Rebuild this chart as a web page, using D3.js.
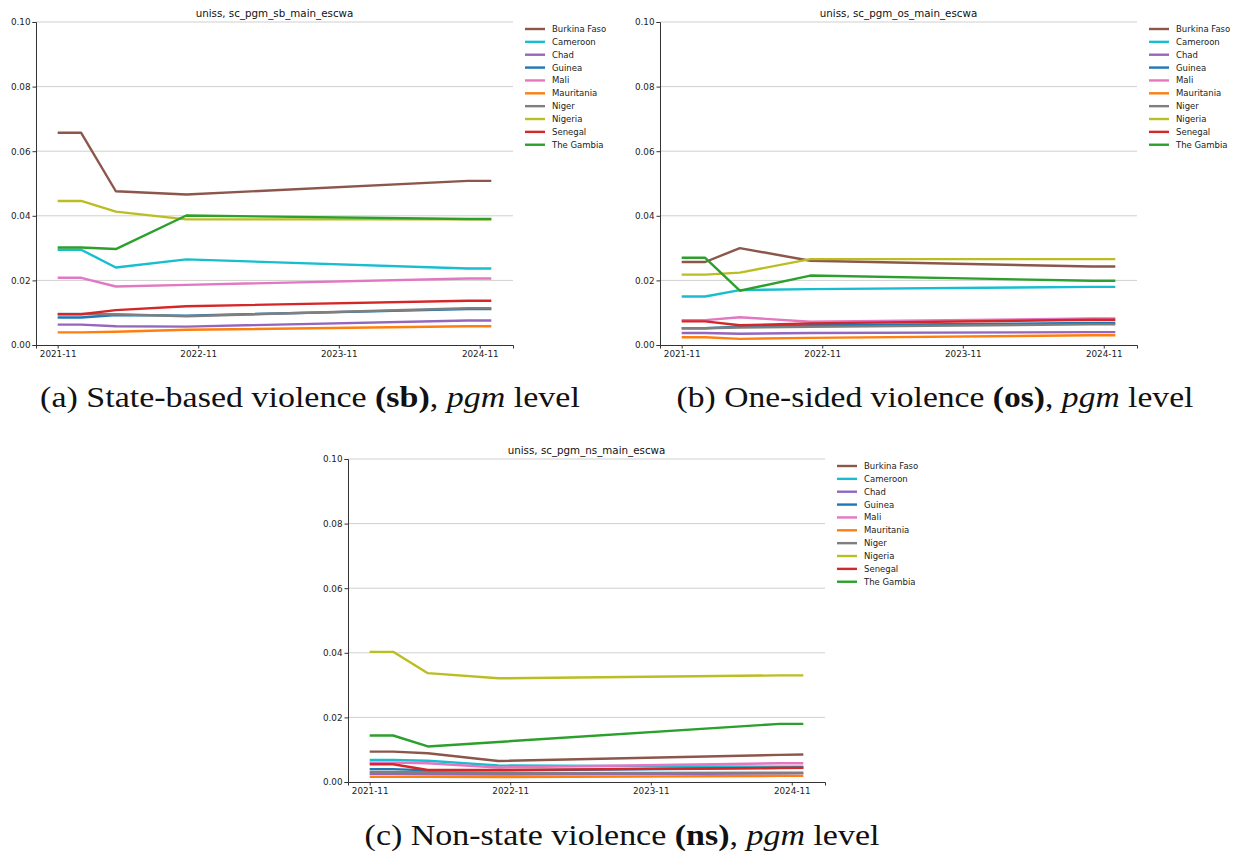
<!DOCTYPE html>
<html>
<head>
<meta charset="utf-8">
<script src="https://cdn.jsdelivr.net/npm/d3@7/dist/d3.min.js"></script>
<style>
  html, body { margin: 0; padding: 0; background: #fff; }
  svg { display: block; }
  .tick text { font-family: "DejaVu Sans", sans-serif; font-size: 8.8px; fill: #222; }
  .ptitle { font-family: "DejaVu Sans", sans-serif; font-size: 10.3px; fill: #111; }
  .legend text { font-family: "DejaVu Sans", sans-serif; font-size: 8.5px; fill: #222; }
  .caption { font-family: "Liberation Serif", "DejaVu Serif", serif; font-size: 30px; fill: #111; }
</style>
</head>
<body>
<svg id="chart" width="1236" height="852"></svg>
<script>
// uniss forecasts — three small line panels (sb / os / ns), pgm level.

// months of the forecast points
const MONTHS = ["2021-11", "2022-01", "2022-04", "2022-10", "2024-10", "2024-12"];
const X_TICKS = ["2021-11", "2022-11", "2023-11", "2024-11"];
const Y_TICKS = [0, 0.02, 0.04, 0.06, 0.08, 0.10];

const COUNTRIES = ["Burkina Faso", "Cameroon", "Chad", "Guinea", "Mali",
                   "Mauritania", "Niger", "Nigeria", "Senegal", "The Gambia"];
const COLORS = ["#8c564b", "#17becf", "#9467bd", "#1f77b4", "#e377c2",
                "#ff7f0e", "#7f7f7f", "#bcbd22", "#d62728", "#2ca02c"];

// one row per country, same order as COUNTRIES
const SB_VALUES = [
  [0.0657, 0.0657, 0.0476, 0.0466, 0.0508, 0.0508],
  [0.0295, 0.0295, 0.0240, 0.0265, 0.0237, 0.0237],
  [0.0063, 0.0063, 0.0058, 0.0057, 0.0076, 0.0076],
  [0.0085, 0.0085, 0.0093, 0.0091, 0.0111, 0.0111],
  [0.0208, 0.0208, 0.0181, 0.0186, 0.0206, 0.0206],
  [0.0039, 0.0039, 0.0041, 0.0047, 0.0058, 0.0058],
  [0.0096, 0.0096, 0.0095, 0.0089, 0.0114, 0.0114],
  [0.0446, 0.0446, 0.0413, 0.0389, 0.0389, 0.0389],
  [0.0095, 0.0095, 0.0108, 0.0120, 0.0137, 0.0137],
  [0.0302, 0.0302, 0.0297, 0.0401, 0.0390, 0.0390]
];
const OS_VALUES = [
  [0.0257, 0.0257, 0.0300, 0.0261, 0.0243, 0.0243],
  [0.0150, 0.0150, 0.0170, 0.0173, 0.0180, 0.0180],
  [0.0037, 0.0037, 0.0035, 0.0037, 0.0040, 0.0040],
  [0.0052, 0.0052, 0.0057, 0.0061, 0.0068, 0.0068],
  [0.0077, 0.0077, 0.0086, 0.0072, 0.0082, 0.0082],
  [0.0024, 0.0024, 0.0019, 0.0022, 0.0030, 0.0030],
  [0.0052, 0.0052, 0.0054, 0.0056, 0.0064, 0.0064],
  [0.0218, 0.0218, 0.0224, 0.0266, 0.0266, 0.0266],
  [0.0073, 0.0073, 0.0061, 0.0067, 0.0078, 0.0078],
  [0.0270, 0.0270, 0.0168, 0.0215, 0.0199, 0.0199]
];
const NS_VALUES = [
  [0.0094, 0.0094, 0.0089, 0.0065, 0.0084, 0.0085],
  [0.0068, 0.0068, 0.0066, 0.0051, 0.0047, 0.0047],
  [0.0025, 0.0025, 0.0024, 0.0023, 0.0026, 0.0027],
  [0.0040, 0.0040, 0.0036, 0.0036, 0.0043, 0.0044],
  [0.0060, 0.0060, 0.0058, 0.0045, 0.0058, 0.0058],
  [0.0016, 0.0016, 0.0016, 0.0015, 0.0019, 0.0019],
  [0.0031, 0.0031, 0.0030, 0.0027, 0.0029, 0.0029],
  [0.0403, 0.0403, 0.0337, 0.0321, 0.0330, 0.0330],
  [0.0055, 0.0055, 0.0037, 0.0037, 0.0044, 0.0044],
  [0.0144, 0.0144, 0.0110, 0.0124, 0.0180, 0.0180]
];

const PANELS = [
  { title: "uniss, sc_pgm_sb_main_escwa", values: SB_VALUES, left: 36, top: 22,
    letter: "(a)", name: "State-based violence", code: "(sb)", capX: 310, capY: 407, capW: 540 },
  { title: "uniss, sc_pgm_os_main_escwa", values: OS_VALUES, left: 660, top: 22,
    letter: "(b)", name: "One-sided violence", code: "(os)", capX: 935, capY: 407, capW: 517 },
  { title: "uniss, sc_pgm_ns_main_escwa", values: NS_VALUES, left: 348, top: 459,
    letter: "(c)", name: "Non-state violence", code: "(ns)", capX: 622, capY: 845, capW: 515 }
];

const PW = 477, PH = 323;
const parse = d3.timeParse("%Y-%m");
const svg = d3.select("#chart");

// matplotlib-style 5% margin either side of the data
const t0 = parse(MONTHS[0]), t1 = parse(MONTHS[MONTHS.length - 1]);
const pad = (t1 - t0) * 0.05;

PANELS.forEach(function (p) {
  const g = svg.append("g").attr("transform", "translate(" + p.left + "," + p.top + ")");

  const x = d3.scaleTime()
    .domain([new Date(+t0 - pad), new Date(+t1 + pad)])
    .range([0, PW]);
  const y = d3.scaleLinear().domain([0, 0.10]).range([PH, 0]);

  // horizontal grid
  g.append("g")
    .selectAll("line")
    .data(Y_TICKS.filter(function (v) { return v > 0; }))
    .join("line")
    .attr("x1", 0).attr("x2", PW)
    .attr("y1", function (v) { return y(v); })
    .attr("y2", function (v) { return y(v); })
    .attr("stroke", "#cfcfcf")
    .attr("stroke-width", 1);

  // lines, alphabetical draw order
  const line = d3.line()
    .x(function (d, i) { return x(parse(MONTHS[i])); })
    .y(function (d) { return y(d); });

  g.append("g")
    .selectAll("path")
    .data(p.values)
    .join("path")
    .attr("d", line)
    .attr("fill", "none")
    .attr("stroke", function (d, i) { return COLORS[i]; })
    .attr("stroke-width", 2.4)
    .attr("stroke-linejoin", "round");

  // axes
  const yAxis = g.append("g")
    .call(d3.axisLeft(y).tickValues(Y_TICKS).tickFormat(d3.format(".2f")).tickSize(3.5).tickPadding(2));
  const xAxis = g.append("g")
    .attr("transform", "translate(0," + PH + ")")
    .call(d3.axisBottom(x).tickValues(X_TICKS.map(parse)).tickFormat(d3.timeFormat("%Y-%m")).tickSize(3.5).tickPadding(2));
  [yAxis, xAxis].forEach(function (a) {
    a.select(".domain").attr("stroke", "#333").attr("stroke-width", 1);
    a.selectAll(".tick line").attr("stroke", "#333");
  });

  g.append("text")
    .attr("class", "ptitle")
    .attr("x", PW / 2).attr("y", -5)
    .attr("text-anchor", "middle")
    .text(p.title);

  // legend
  const lg = g.append("g")
    .attr("class", "legend")
    .attr("transform", "translate(" + (PW + 12) + ",7)");
  const row = lg.selectAll("g")
    .data(COUNTRIES)
    .join("g")
    .attr("transform", function (d, i) { return "translate(0," + (i * 12.86) + ")"; });
  row.append("line")
    .attr("x1", 0).attr("x2", 20)
    .attr("stroke", function (d, i) { return COLORS[i]; })
    .attr("stroke-width", 2.4);
  row.append("text")
    .attr("x", 27).attr("y", 3)
    .text(function (d) { return d; });

  // LaTeX-like subfigure caption, stretched to the reference width
  const capG = svg.append("g");
  const cap = capG.append("text")
    .attr("class", "caption")
    .attr("text-anchor", "middle");
  cap.append("tspan").text(p.letter + " " + p.name + " ");
  cap.append("tspan").attr("font-weight", "bold").text(p.code);
  cap.append("tspan").text(", ");
  cap.append("tspan").attr("font-style", "italic").text("pgm");
  cap.append("tspan").text(" level");
  const w = cap.node().getComputedTextLength() || p.capW;
  capG.attr("transform", "translate(" + p.capX + "," + p.capY + ") scale(" + (p.capW / w) + ",1)");
});
</script>
</body>
</html>
